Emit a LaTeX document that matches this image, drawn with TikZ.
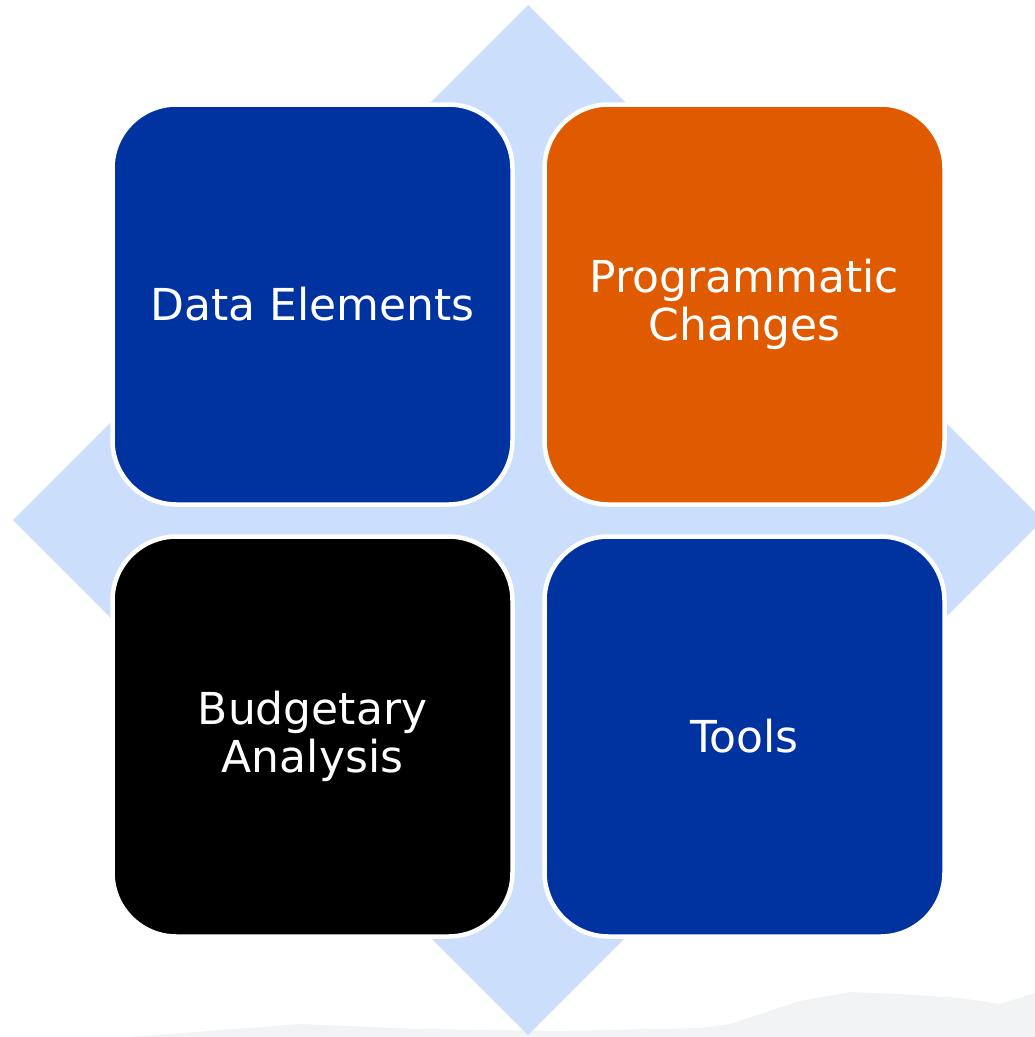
\documentclass[tikz,border=0pt]{standalone}
\usepackage{fontspec}
\setmainfont{DejaVu Sans}
\definecolor{quadblue}{HTML}{0033A0}
\definecolor{quadorange}{HTML}{E05A00}
\definecolor{quadblack}{HTML}{000000}
\definecolor{diamondblue}{HTML}{CBDFFC}
\definecolor{hillgrey}{HTML}{F2F3F5}
\tikzset{
	quad/.style={draw=white, line width=4.5pt, rounded corners=64pt,
		minimum width=400pt, minimum height=400pt, inner sep=0pt,
		text=white, align=center, font=\fontsize{44}{48}\selectfont}
}

\begin{document}
\begin{tikzpicture}[x=1pt,y=-1pt]
	\useasboundingbox (0,0) rectangle (1035,1037);
	% faint hills at the bottom
	\fill[hillgrey] (130,1037) -- (300,1024) -- (420,1029) -- (560,1031) -- (700,1028)
		-- (730,1024) -- (800,1001) -- (850,992) -- (900,994) -- (960,998) -- (1000,1004)
		-- (1035,993) -- (1035,1037) -- cycle;
	% diamond behind the boxes
	\coordinate (N) at (528,5);
	\coordinate (E) at (1043,520);
	\coordinate (S) at (528,1035);
	\coordinate (W) at (13,520);
	\fill[diamondblue] (N) -- (E) -- (S) -- (W) -- cycle;
	% the four boxes
	\node[quad, fill=quadblue] (data) at (312.5,304.5) {Data Elements};
	\node[quad, fill=quadorange] (prog) at (744.5,304.5) {Programmatic\\Changes};
	\node[quad, fill=quadblack] (budget) at (312.5,736.5) {Budgetary\\Analysis};
	\node[quad, fill=quadblue] (tools) at (744.5,736.5) {Tools};
\end{tikzpicture}
\end{document}
